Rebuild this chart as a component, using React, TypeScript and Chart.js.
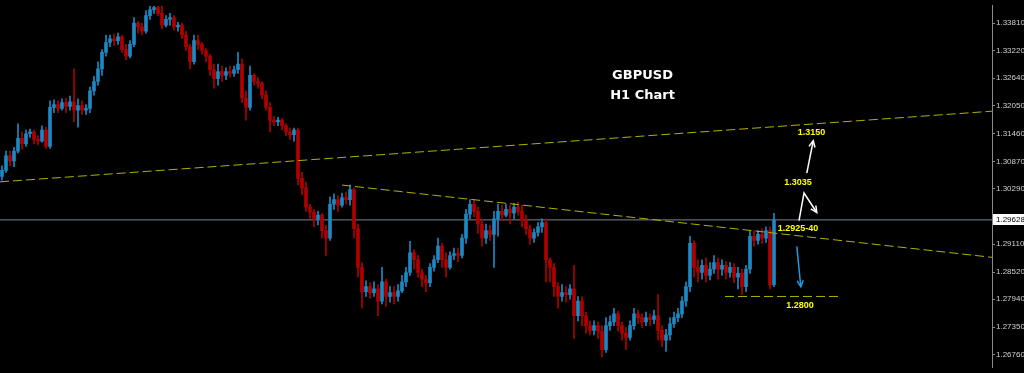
import { useEffect, useRef } from "react";
import { Chart, registerables } from "chart.js";

Chart.register(...registerables);

// ---- DATA (GBPUSD, H1 candles, left to right) ----
const OPEN = [
  1.3055, 1.3068, 1.3099, 1.3088, 1.3109, 1.3136, 1.3125, 1.3146, 1.3150, 1.3134,
  1.3130, 1.3154, 1.3119, 1.3202, 1.3208, 1.3200, 1.3212, 1.3204, 1.3214, 1.3196,
  1.3206, 1.3196, 1.3200, 1.3237, 1.3257, 1.3284, 1.3319, 1.3340, 1.3348, 1.3344,
  1.3352, 1.3325, 1.3311, 1.3336, 1.3381, 1.3373, 1.3364, 1.3397, 1.3410, 1.3414,
  1.3402, 1.3377, 1.3389, 1.3393, 1.3373, 1.3377, 1.3356, 1.3331, 1.3299, 1.3344,
  1.3336, 1.3323, 1.3311, 1.3282, 1.3263, 1.3278, 1.3270, 1.3278, 1.3274, 1.3282,
  1.3294, 1.3222, 1.3202, 1.3270, 1.3257, 1.3253, 1.3228, 1.3202, 1.3175, 1.3171,
  1.3175, 1.3163, 1.3150, 1.3144, 1.3154, 1.3051, 1.3031, 1.2990, 1.2979, 1.2965,
  1.2973, 1.2940, 1.2924, 1.2996, 1.3006, 1.2994, 1.3010, 1.3006, 1.3027, 1.2944,
  1.2862, 1.2810, 1.2821, 1.2808, 1.2816, 1.2790, 1.2831, 1.2800, 1.2808, 1.2800,
  1.2812, 1.2831, 1.2851, 1.2893, 1.2878, 1.2851, 1.2837, 1.2829, 1.2862, 1.2878,
  1.2907, 1.2878, 1.2862, 1.2887, 1.2891, 1.2887, 1.2924, 1.2975, 1.2996, 1.2981,
  1.2954, 1.2924, 1.2940, 1.2932, 1.2965, 1.2981, 1.2973, 1.2985, 1.2977, 1.2990,
  1.2981, 1.2961, 1.2944, 1.2924, 1.2936, 1.2948, 1.2957, 1.2878, 1.2862, 1.2821,
  1.2800, 1.2808, 1.2804, 1.2816, 1.2759, 1.2790, 1.2759, 1.2738, 1.2728, 1.2738,
  1.2726, 1.2687, 1.2738, 1.2746, 1.2763, 1.2738, 1.2722, 1.2713, 1.2738, 1.2763,
  1.2755, 1.2746, 1.2755, 1.2751, 1.2759, 1.2728, 1.2707, 1.2718, 1.2742, 1.2755,
  1.2763, 1.2790, 1.2821, 1.2913, 1.2862, 1.2851, 1.2866, 1.2845, 1.2858, 1.2872,
  1.2858, 1.2866, 1.2851, 1.2862, 1.2841, 1.2849, 1.2821, 1.2858, 1.2928, 1.2919,
  1.2932, 1.2924, 1.2940, 1.2825,
];
const HIGH = [
  1.3078, 1.3109, 1.3109, 1.3117, 1.3167, 1.3150, 1.3154, 1.3156, 1.3154, 1.3142,
  1.3163, 1.3160, 1.3216, 1.3218, 1.3216, 1.3220, 1.3222, 1.3226, 1.3284, 1.3220,
  1.3216, 1.3208, 1.3245, 1.3268, 1.3299, 1.3325, 1.3356, 1.3356, 1.3358, 1.3360,
  1.3356, 1.3336, 1.3344, 1.3393, 1.3385, 1.3381, 1.3408, 1.3418, 1.3418, 1.3418,
  1.3418, 1.3397, 1.3402, 1.3397, 1.3383, 1.3381, 1.3364, 1.3336, 1.3356, 1.3356,
  1.3340, 1.3327, 1.3315, 1.3294, 1.3294, 1.3290, 1.3286, 1.3290, 1.3290, 1.3319,
  1.3305, 1.3237, 1.3290, 1.3274, 1.3266, 1.3257, 1.3237, 1.3212, 1.3183, 1.3181,
  1.3179, 1.3167, 1.3158, 1.3158, 1.3158, 1.3064, 1.3043, 1.2996, 1.2985, 1.2981,
  1.2977, 1.2952, 1.3012, 1.3018, 1.3014, 1.3020, 1.3022, 1.3037, 1.3031, 1.2954,
  1.2872, 1.2833, 1.2829, 1.2831, 1.2825, 1.2862, 1.2837, 1.2821, 1.2821, 1.2825,
  1.2845, 1.2862, 1.2917, 1.2899, 1.2887, 1.2858, 1.2845, 1.2870, 1.2887, 1.2924,
  1.2913, 1.2893, 1.2895, 1.2903, 1.2903, 1.2932, 1.2985, 1.3006, 1.3006, 1.2990,
  1.2965, 1.2954, 1.2952, 1.2981, 1.2996, 1.2994, 1.2996, 1.2994, 1.2998, 1.3000,
  1.2994, 1.2973, 1.2952, 1.2944, 1.2957, 1.2965, 1.2965, 1.2882, 1.2870, 1.2829,
  1.2825, 1.2821, 1.2825, 1.2866, 1.2800, 1.2800, 1.2767, 1.2748, 1.2748, 1.2746,
  1.2738, 1.2755, 1.2759, 1.2775, 1.2769, 1.2746, 1.2734, 1.2748, 1.2775, 1.2771,
  1.2763, 1.2767, 1.2763, 1.2771, 1.2804, 1.2738, 1.2730, 1.2755, 1.2767, 1.2775,
  1.2800, 1.2831, 1.2928, 1.2919, 1.2878, 1.2878, 1.2882, 1.2872, 1.2887, 1.2882,
  1.2878, 1.2874, 1.2872, 1.2870, 1.2862, 1.2858, 1.2866, 1.2940, 1.2940, 1.2940,
  1.2944, 1.2948, 1.2948, 1.2977,
];
const LOW = [
  1.3047, 1.3064, 1.3078, 1.3076, 1.3105, 1.3113, 1.3119, 1.3138, 1.3125, 1.3123,
  1.3128, 1.3115, 1.3115, 1.3191, 1.3191, 1.3196, 1.3191, 1.3196, 1.3171, 1.3160,
  1.3187, 1.3187, 1.3191, 1.3228, 1.3249, 1.3270, 1.3311, 1.3331, 1.3334, 1.3336,
  1.3319, 1.3303, 1.3307, 1.3331, 1.3360, 1.3356, 1.3360, 1.3389, 1.3402, 1.3397,
  1.3369, 1.3373, 1.3377, 1.3366, 1.3364, 1.3348, 1.3323, 1.3284, 1.3294, 1.3325,
  1.3315, 1.3299, 1.3270, 1.3243, 1.3249, 1.3257, 1.3261, 1.3266, 1.3268, 1.3274,
  1.3212, 1.3175, 1.3196, 1.3249, 1.3243, 1.3220, 1.3196, 1.3150, 1.3163, 1.3163,
  1.3154, 1.3142, 1.3134, 1.3130, 1.3037, 1.3016, 1.2981, 1.2965, 1.2948, 1.2952,
  1.2924, 1.2887, 1.2919, 1.2985, 1.2981, 1.2990, 1.2996, 1.2994, 1.2924, 1.2841,
  1.2775, 1.2800, 1.2796, 1.2800, 1.2759, 1.2784, 1.2779, 1.2788, 1.2784, 1.2790,
  1.2808, 1.2821, 1.2845, 1.2858, 1.2841, 1.2821, 1.2810, 1.2821, 1.2854, 1.2872,
  1.2862, 1.2841, 1.2858, 1.2878, 1.2874, 1.2882, 1.2913, 1.2965, 1.2969, 1.2934,
  1.2907, 1.2913, 1.2919, 1.2862, 1.2928, 1.2961, 1.2969, 1.2954, 1.2965, 1.2973,
  1.2948, 1.2932, 1.2911, 1.2915, 1.2928, 1.2936, 1.2831, 1.2831, 1.2800, 1.2775,
  1.2790, 1.2788, 1.2794, 1.2711, 1.2748, 1.2738, 1.2722, 1.2718, 1.2718, 1.2711,
  1.2672, 1.2681, 1.2728, 1.2738, 1.2726, 1.2707, 1.2687, 1.2707, 1.2730, 1.2742,
  1.2734, 1.2738, 1.2738, 1.2742, 1.2707, 1.2693, 1.2683, 1.2707, 1.2734, 1.2746,
  1.2755, 1.2779, 1.2810, 1.2841, 1.2831, 1.2837, 1.2831, 1.2835, 1.2849, 1.2837,
  1.2845, 1.2837, 1.2841, 1.2829, 1.2816, 1.2804, 1.2810, 1.2849, 1.2907, 1.2911,
  1.2913, 1.2915, 1.2816, 1.2821,
];
const CLOSE = [
  1.3068, 1.3099, 1.3088, 1.3109, 1.3136, 1.3125, 1.3146, 1.3150, 1.3134, 1.3130,
  1.3154, 1.3119, 1.3202, 1.3208, 1.3200, 1.3212, 1.3204, 1.3214, 1.3196, 1.3206,
  1.3196, 1.3200, 1.3237, 1.3257, 1.3284, 1.3319, 1.3340, 1.3348, 1.3344, 1.3352,
  1.3325, 1.3311, 1.3336, 1.3381, 1.3373, 1.3364, 1.3397, 1.3410, 1.3414, 1.3402,
  1.3377, 1.3389, 1.3393, 1.3373, 1.3377, 1.3356, 1.3331, 1.3299, 1.3344, 1.3336,
  1.3323, 1.3311, 1.3282, 1.3263, 1.3278, 1.3270, 1.3278, 1.3274, 1.3282, 1.3294,
  1.3222, 1.3202, 1.3270, 1.3257, 1.3253, 1.3228, 1.3202, 1.3175, 1.3171, 1.3175,
  1.3163, 1.3150, 1.3144, 1.3154, 1.3051, 1.3031, 1.2990, 1.2979, 1.2965, 1.2973,
  1.2940, 1.2924, 1.2996, 1.3006, 1.2994, 1.3010, 1.3006, 1.3027, 1.2944, 1.2862,
  1.2810, 1.2821, 1.2808, 1.2816, 1.2790, 1.2831, 1.2800, 1.2808, 1.2800, 1.2812,
  1.2831, 1.2851, 1.2893, 1.2878, 1.2851, 1.2837, 1.2829, 1.2862, 1.2878, 1.2907,
  1.2878, 1.2862, 1.2887, 1.2891, 1.2887, 1.2924, 1.2975, 1.2996, 1.2981, 1.2954,
  1.2924, 1.2940, 1.2932, 1.2965, 1.2981, 1.2973, 1.2985, 1.2977, 1.2990, 1.2981,
  1.2961, 1.2944, 1.2924, 1.2936, 1.2948, 1.2957, 1.2878, 1.2862, 1.2821, 1.2800,
  1.2808, 1.2804, 1.2816, 1.2759, 1.2790, 1.2759, 1.2738, 1.2728, 1.2738, 1.2726,
  1.2687, 1.2738, 1.2746, 1.2763, 1.2738, 1.2722, 1.2713, 1.2738, 1.2763, 1.2755,
  1.2746, 1.2755, 1.2751, 1.2759, 1.2728, 1.2707, 1.2718, 1.2742, 1.2755, 1.2763,
  1.2790, 1.2821, 1.2913, 1.2862, 1.2851, 1.2866, 1.2845, 1.2858, 1.2872, 1.2858,
  1.2866, 1.2851, 1.2862, 1.2841, 1.2849, 1.2821, 1.2858, 1.2928, 1.2919, 1.2932,
  1.2924, 1.2940, 1.2825, 1.29628,
];

const CURRENT_PRICE = 1.29628;
const Y_TICKS = [
  1.3381, 1.3322, 1.3264, 1.3205, 1.3146, 1.3087, 1.3029, 1.297, 1.2911, 1.2852,
  1.2794, 1.2735, 1.2676,
];
const Y_MIN = 1.26496;
const Y_MAX = 1.3418;
const X_MIN = -0.5;
const X_MAX = 247.5;

// trend lines (candle index, price)
const UPPER_TREND = [
  { x: -0.5, y: 1.30437 },
  { x: 247.5, y: 1.31939 },
];
const LOWER_TREND = [
  { x: 85, y: 1.30369 },
  { x: 247.5, y: 1.28832 },
];
const SUPPORT_LEVEL = 1.28;
const SUPPORT_SPAN = [180.75, 210];

const TITLE_LINES = ["GBPUSD", "H1 Chart"];
const LEVEL_LABELS = [
  { text: "1.3150", x: 202.4, y: 1.31481 },
  { text: "1.3035", x: 199, y: 1.30416 },
  { text: "1.2925-40", x: 199, y: 1.29442 },
  { text: "1.2800", x: 199.5, y: 1.27815 },
];
// arrows as polylines in (index, price)
const ARROWS = [
  { color: "#ffffff", pts: [{ x: 201.2, y: 1.30622 }, { x: 202.8, y: 1.3131 }] },
  {
    color: "#ffffff",
    pts: [
      { x: 199.25, y: 1.29613 },
      { x: 200.5, y: 1.30198 },
      { x: 203.7, y: 1.29786 },
    ],
  },
  { color: "#1e9be0", pts: [{ x: 198.7, y: 1.29065 }, { x: 199.7, y: 1.28206 }] },
];

const UP_COLOR = "#1d88c2";
const DOWN_COLOR = "#b00000";
const TREND_COLOR = "#b0b000";

export default function App() {
  const ref = useRef<HTMLCanvasElement | null>(null);

  useEffect(() => {
    document.body.style.margin = "0";
    document.body.style.background = "#000";
    const canvas = ref.current;
    if (!canvas) return;

    const colors = OPEN.map((o, i) => (CLOSE[i] >= o ? UP_COLOR : DOWN_COLOR));
    const wicks = OPEN.map((_, i) => ({ x: i, y: [LOW[i], HIGH[i]] }));
    const bodies = OPEN.map((o, i) => ({ x: i, y: [o, CLOSE[i]] }));

    const bgPlugin = {
      id: "bg",
      beforeDraw(chart: any) {
        const c = chart.ctx;
        c.save();
        c.fillStyle = "#000";
        c.fillRect(0, 0, chart.width, chart.height);
        c.restore();
      },
    };

    const annotPlugin = {
      id: "annot",
      afterDatasetsDraw(chart: any) {
        const c = chart.ctx;
        const xs = chart.scales.x;
        const ys = chart.scales.y;
        const area = chart.chartArea;
        c.save();
        // title
        c.fillStyle = "#ffffff";
        c.font = 'bold 13px "DejaVu Sans"';
        c.textAlign = "center";
        c.textBaseline = "middle";
        const tx = area.left + (area.right - area.left) * 0.6477;
        c.fillText(TITLE_LINES[0], tx, area.top + 70);
        c.fillText(TITLE_LINES[1], tx, area.top + 89.5);

        // level labels
        c.fillStyle = "#ffff00";
        c.font = 'bold 9px "Liberation Sans"';
        LEVEL_LABELS.forEach((l) => {
          c.fillText(l.text, xs.getPixelForValue(l.x), ys.getPixelForValue(l.y));
        });

        // arrows
        c.lineWidth = 1.5;
        ARROWS.forEach((a) => {
          const p = a.pts.map((q) => [xs.getPixelForValue(q.x), ys.getPixelForValue(q.y)]);
          c.strokeStyle = a.color;
          c.beginPath();
          c.moveTo(p[0][0], p[0][1]);
          for (let k = 1; k < p.length; k++) c.lineTo(p[k][0], p[k][1]);
          c.stroke();
          const [x1, y1] = p[p.length - 2];
          const [x2, y2] = p[p.length - 1];
          const ang = Math.atan2(y2 - y1, x2 - x1);
          const hl = 7;
          const spread = 0.45;
          c.beginPath();
          c.moveTo(x2 - hl * Math.cos(ang - spread), y2 - hl * Math.sin(ang - spread));
          c.lineTo(x2, y2);
          c.lineTo(x2 - hl * Math.cos(ang + spread), y2 - hl * Math.sin(ang + spread));
          c.stroke();
        });
        c.restore();
      },
      afterDraw(chart: any) {
        const c = chart.ctx;
        const ys = chart.scales.y;
        const area = chart.chartArea;
        const py = Math.round(ys.getPixelForValue(CURRENT_PRICE));
        c.save();
        c.fillStyle = "#ffffff";
        c.fillRect(area.right + 1, py - 6, chart.width - area.right - 1, 11);
        c.fillStyle = "#000000";
        c.font = '8px "Liberation Sans"';
        c.textAlign = "left";
        c.textBaseline = "middle";
        c.fillText(CURRENT_PRICE.toFixed(5), area.right + 4, py);
        c.restore();
      },
    };

    const dashed = (data: any[]) =>
      ({
        type: "line",
        data,
        borderColor: TREND_COLOR,
        borderWidth: 1,
        borderDash: [9, 4],
        pointRadius: 0,
        order: 0,
      }) as any;

    const chart = new Chart(canvas, {
      type: "bar",
      data: {
        datasets: [
          dashed(UPPER_TREND),
          dashed(LOWER_TREND),
          dashed([
            { x: SUPPORT_SPAN[0], y: SUPPORT_LEVEL },
            { x: SUPPORT_SPAN[1], y: SUPPORT_LEVEL },
          ]),
          {
            type: "line",
            data: [
              { x: X_MIN, y: CURRENT_PRICE },
              { x: X_MAX, y: CURRENT_PRICE },
            ],
            borderColor: "#7a8290",
            borderWidth: 1,
            pointRadius: 0,
            order: 3,
          } as any,
          {
            type: "bar",
            data: wicks as any,
            backgroundColor: colors,
            barThickness: 1,
            grouped: false,
            order: 2,
          } as any,
          {
            type: "bar",
            data: bodies as any,
            backgroundColor: colors,
            barThickness: 3,
            minBarLength: 1,
            grouped: false,
            order: 1,
          } as any,
        ],
      },
      options: {
        responsive: false,
        animation: false,
        devicePixelRatio: 1,
        layout: { padding: 0 },
        plugins: { legend: { display: false }, tooltip: { enabled: false } },
        events: [],
        scales: {
          x: {
            type: "linear",
            min: X_MIN,
            max: X_MAX,
            offset: false,
            display: false,
          },
          y: {
            type: "linear",
            position: "right",
            min: Y_MIN,
            max: Y_MAX,
            afterBuildTicks: (scale: any) => {
              scale.ticks = Y_TICKS.map((v) => ({ value: v }));
            },
            afterFit: (scale: any) => {
              scale.width = 32;
            },
            border: { display: true, color: "#8a8a8a", width: 1 },
            grid: {
              drawOnChartArea: false,
              drawTicks: true,
              tickLength: 3,
              color: "#8a8a8a",
            },
            ticks: {
              autoSkip: false,
              color: "#d0d0d0",
              padding: 1,
              font: { family: "Liberation Sans", size: 8 },
              callback: (v: any) => Number(v).toFixed(5),
            },
          },
        },
      } as any,
      plugins: [bgPlugin, annotPlugin],
    });

    return () => chart.destroy();
  }, []);

  return (
    <div style={{ width: 1024, height: 373, background: "#000" }}>
      <canvas ref={ref} width={1024} height={373} style={{ display: "block" }} />
    </div>
  );
}
